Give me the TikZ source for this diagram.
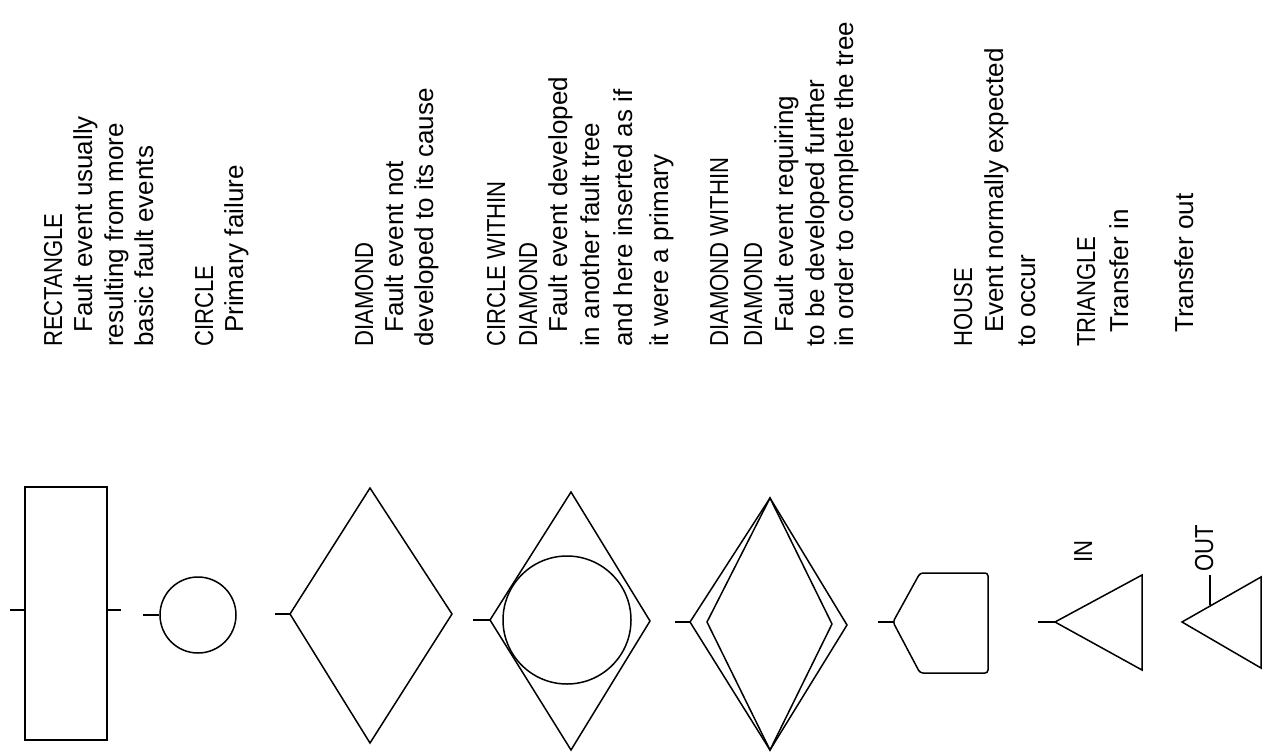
\documentclass[tikz,border=0pt]{standalone}
\usepackage{fontspec}
\setmainfont{Liberation Sans}
\newfontfamily\ttlfont[FakeStretch=0.85]{Liberation Sans}
\newfontfamily\txtfont{Liberation Sans}
\begin{document}
\begin{tikzpicture}[x=1pt,y=-1pt,
  sym/.style={line width=1.5pt, line join=miter, draw=black},
  stub/.style={line width=1.5pt, draw=black},
  ttl/.style={rotate=90, anchor=base west, inner sep=0pt, font=\ttlfont\fontsize{26}{30}\selectfont},
  txt/.style={rotate=90, anchor=base west, inner sep=0pt, font=\txtfont\fontsize{26}{30}\selectfont}]
\useasboundingbox (0,0) rectangle (1264,753);

% ---------- symbols ----------
% rectangle
\node[sym, draw, rectangle, minimum width=82pt, minimum height=253pt, inner sep=0pt] (rect) at (66,613.5) {};
\coordinate (rectL) at (10,610);
\coordinate (rectR) at (121,610);
\draw[stub] (rectL) -- (rect.west |- rectL);
\draw[stub] (rect.east |- rectR) -- (rectR);

% circle
\node[sym, draw, circle, minimum size=76pt, inner sep=0pt] (circ) at (198,615) {};
\coordinate (circS) at (143,615);
\draw[stub] (circS) -- (circ.west);

% diamond
\coordinate (d1l) at (290,614);
\coordinate (d1t) at (370,488);
\coordinate (d1r) at (452,614);
\coordinate (d1b) at (370,743);
\coordinate (d1s) at (275,614);
\draw[sym] (d1l) -- (d1t) -- (d1r) -- (d1b) -- cycle;
\draw[stub] (d1s) -- (d1l);

% circle within diamond
\coordinate (d2l) at (490,620);
\coordinate (d2t) at (571,492);
\coordinate (d2r) at (650,621);
\coordinate (d2b) at (571,750);
\coordinate (d2s) at (473,620);
\draw[sym] (d2l) -- (d2t) -- (d2r) -- (d2b) -- cycle;
\node[sym, draw, circle, minimum size=128pt, inner sep=0pt] (c2) at (567,620) {};
\draw[stub] (d2s) -- (d2l);

% diamond within diamond
\coordinate (d3l) at (690,622);
\coordinate (d3t) at (770,498);
\coordinate (d3r) at (847,625);
\coordinate (d3b) at (770,750);
\coordinate (d3il) at (707,622);
\coordinate (d3ir) at (832,624);
\coordinate (d3s) at (675,622);
\draw[sym] (d3l) -- (d3t) -- (d3r) -- (d3b) -- cycle;
\draw[sym] (d3il) -- (d3t) -- (d3ir) -- (d3b) -- cycle;
\draw[stub] (d3s) -- (d3l);

% house
\coordinate (hp) at (893,622);
\coordinate (htl) at (920,573);
\coordinate (htr) at (988,573);
\coordinate (hbr) at (988,673);
\coordinate (hbl) at (920,673);
\coordinate (hs) at (878,622);
\draw[sym, rounded corners=3pt] (hp) -- (htl) -- (htr) -- (hbr) -- (hbl) -- cycle;
\draw[stub] (hs) -- (hp);

% triangle in
\coordinate (tia) at (1055,622);
\coordinate (tit) at (1142,575);
\coordinate (tib) at (1142,670);
\coordinate (tis) at (1038,622);
\draw[sym] (tia) -- (tit) -- (tib) -- cycle;
\draw[stub] (tis) -- (tia);
\node[ttl] (inlab) at (1092,563) {IN};

% triangle out
\coordinate (toa) at (1182,622);
\coordinate (tot) at (1261,577);
\coordinate (tob) at (1261,668);
\draw[sym] (toa) -- (tot) -- (tob) -- cycle;
\node[ttl] (outlab) at (1213,572) {OUT};
\coordinate (oleadA) at (1210,605);
\coordinate (oleadB) at (1210,575);
\draw[stub] (oleadA) -- (oleadB);

% ---------- texts ----------
\node[ttl] (t1a) at (62,347) {RECTANGLE};
\node[txt] (t1b) at (92,333) {Fault event usually};
\node[txt] (t1c) at (123,347) {resulting from more};
\node[txt] (t1d) at (153,347) {basic fault events};

\node[ttl] (t2a) at (213,347) {CIRCLE};
\node[txt] (t2b) at (243,333) {Primary failure};

\node[ttl] (t3a) at (373,347) {DIAMOND};
\node[txt] (t3b) at (403,333) {Fault event not};
\node[txt] (t3c) at (433,347) {developed to its cause};

\node[ttl] (t4a) at (505,347) {CIRCLE WITHIN};
\node[ttl] (t4b) at (537,347) {DIAMOND};
\node[txt] (t4c) at (567,333) {Fault event developed};
\node[txt] (t4d) at (599,347) {in another fault tree};
\node[txt] (t4e) at (632,347) {and here inserted as if};
\node[txt] (t4f) at (668,347) {it were a primary};

\node[ttl] (t5a) at (728,347) {DIAMOND WITHIN};
\node[ttl] (t5b) at (762,347) {DIAMOND};
\node[txt] (t5c) at (793,333) {Fault event requiring};
\node[txt] (t5d) at (824,347) {to be developed further};
\node[txt] (t5e) at (853,347) {in order to complete the tree};

\node[ttl] (t6a) at (972,347) {HOUSE};
\node[txt] (t6b) at (1003,333) {Event normally expected};
\node[txt] (t6c) at (1035,347) {to occur};

\node[ttl] (t7a) at (1095,347) {TRIANGLE};
\node[txt] (t7b) at (1128,333) {Transfer in};

\node[txt] (t8a) at (1193,333) {Transfer out};
\end{tikzpicture}
\end{document}
